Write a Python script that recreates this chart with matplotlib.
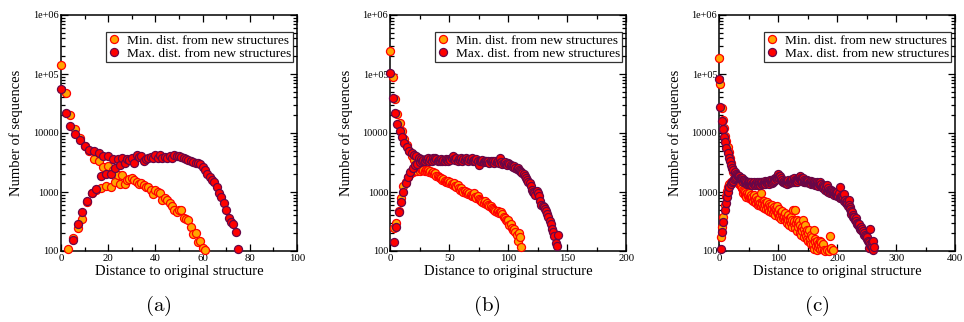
import numpy as np
import matplotlib
matplotlib.use('Agg')
import matplotlib.pyplot as plt
from matplotlib.ticker import FixedLocator, FixedFormatter, MultipleLocator, LogLocator, NullFormatter

nan = np.nan

# ---------------- data ----------------
# index = distance to original structure (0,1,2,...); nan = below the visible range
min_a = [144000, nan, 48300, 110, 20500, 168, 11800, 245, 8200, 354,
         6000, 690, 4900, 950, 3630, 1070, 3350, 1170, 2690, 1260,
         2760, 1220, 2400, 1450, 1920, 1380, 1920, 1380, 1590, 1640,
         1730, 1590, 1480, 1380, 1420, 1290, 1220, 1220, 1090, 935,
         1070, 1010, 950, 730, 780, 730, 645, 580, 495, 463,
         495, 495, 358, 344, 331, 252, 192, 200, 142, 146,
         112, 104]
max_a = [56000, nan, 21500, nan, 13200, 156, 9800, 283, 7500, 452,
         6000, 703, 5100, 960, 4950, 1140, 4600, 1890, 4030, 2020,
         4050, 2040, 3670, 2580, 3580, 2820, 3800, 3090, 3600, 3540,
         3800, 3140, 4200, 3900, 4150, 3300, 3600, 3720, 3900, 3800,
         4200, 3700, 4200, 3800, 3900, 3700, 4000, 3800, 4300, 4000,
         4000, 3900, 3800, 3600, 3440, 3300, 3270, 3150, 3140, 3000,
         2690, 2360, 2050, 1790, 1600, 1500, 1200, 980, 815, 660,
         495, 367, 314, 290, 210, 108]

min_b = [248000, nan, 90000, 250, 37500, 300, 21000, 480, 14500, 800,
         11000, 1260, 8000, 1500, 6300, 1800, 5000, 2000, 4100, 2150,
         3500, 2250, 3000, 2300, 2700, 2300, 2500, 2400, 2400, 2300,
         2350, 2300, 2400, 2200, 2300, 2100, 2200, 2000, 2100, 1900,
         1850, 1800, 1700, 1750, 1600, 1650, 1550, 1500, 1450, 1550,
         1400, 1450, 1350, 1300, 1400, 1250, 1200, 1300, 1150, 1100,
         1150, 1050, 1000, 1050, 950, 1000, 920, 980, 900, 870,
         850, 950, 820, 800, 850, 760, 730, 700, 680, 650,
         700, 620, 640, 600, 570, 580, 540, 520, 500, 480,
         460, 470, 440, 450, 460, 420, 380, 360, 340, 320,
         330, 280, 290, 250, 230, 240, 210, 190, 150, 200,
         175, 118]
max_b = [105000, nan, 39000, 143, 21800, 252, 14400, 465, 11000, 690,
         8500, 1000, 6800, 1400, 5800, 1800, 5000, 2200, 4500, 2600,
         4200, 2850, 4000, 3000, 3800, 3200, 3600, 3300, 3500, 3400,
         3600, 3500, 3700, 3300, 3600, 3400, 3700, 3500, 3800, 3600,
         3300, 3500, 3400, 3600, 3300, 3500, 3400, 3600, 3500, 3300,
         3600, 3500, 3700, 4000, 3600, 3500, 3700, 3400, 3600, 3500,
         3700, 3400, 3600, 3500, 3800, 3500, 3400, 3600, 3500, 3700,
         3400, 3500, 3300, 3600, 3400, 2900, 3400, 3300, 3500, 3200,
         3300, 3400, 3200, 3300, 3100, 3300, 3200, 3400, 3100, 3300,
         3200, 3300, 3100, 3800, 3200, 3000, 3100, 3200, 3000, 2900,
         3100, 3000, 2900, 2800, 2700, 2800, 2600, 2500, 2600, 2400,
         2300, 2200, 2100, 2000, 1900, 1750, 1600, 1500, 1400, 1250,
         1100, 1000, 950, 900, 1050, 950, 850, 700, 600, 580,
         550, 520, 480, 430, 380, 320, 290, 240, 210, 180,
         135, 120, 190]

min_c = [190000, nan, 69000, 175, 27000, 260, 16600, 380, 12000, 600,
         9000, 850, 7200, 1050, 5800, 1230, 4700, 1350, 3800, 1450,
         3100, 1500, 2600, 1550, 2200, 1600, 1900, 1600, 1700, 1550,
         1550, 1500, 1450, 1450, 1350, 1350, 1250, 1250, 1150, 1150,
         1100, 950, 1050, 880, 1000, 920, 820, 980, 860, 900,
         800, 950, 830, 760, 880, 720, 820, 700, 780, 900,
         680, 750, 820, 640, 720, 600, 700, 760, 620, 645,
         950, 580, 680, 620, 560, 700, 540, 640, 600, 520,
         600, 680, 500, 560, 620, 480, 580, 530, 460, 600,
         525, 440, 560, 480, 520, 400, 500, 450, 580, 420,
         450, 380, 520, 400, 460, 350, 420, 480, 360, 400,
         380, 330, 440, 360, 355, 300, 400, 340, 280, 360,
         330, 300, 380, 260, 340, 500, 290, 320, 495, 250,
         295, 340, 220, 300, 260, 320, 200, 280, 240, 190,
         260, 220, 335, 175, 240, 200, 280, 180, 224, 160,
         200, 150, 230, 140, 163, 190, 130, 170, 120, 132,
         227, 110, 160, 140, 120, 150, 105, 130, 115, 125,
         150, 108, 120, 141, 110, 130, 95, 105, 90, 100,
         85, 92, 105, 80, 95, 88, 100, 180, 90, 110,
         111, 95, 105]
max_c = [81000, nan, 28000, 107, 16000, 210, 11500, 310, 8700, 495,
         7000, 650, 5600, 830, 4600, 1000, 3800, 1230, 3300, 1350,
         2900, 1490, 2600, 1550, 2400, 1650, 2200, 1700, 2050, 1800,
         1950, 1900, 1900, 1800, 1850, 1700, 1750, 1650, 1700, 1600,
         1550, 1480, 1600, 1450, 1520, 1400, 1500, 1380, 1450, 1420,
         1350, 1480, 1400, 1300, 1450, 1380, 1320, 1420, 1350, 1500,
         1380, 1300, 1420, 1350, 1480, 1400, 1330, 1450, 1380, 1300,
         1420, 1500, 1380, 1450, 1350, 1480, 1400, 1520, 1380, 1450,
         1500, 1420, 1550, 1450, 1380, 1500, 1600, 1480, 1550, 1420,
         1600, 1500, 1650, 1550, 1700, 1600, 1750, 1650, 1800, 1900,
         2000, 1850, 1750, 1900, 1650, 1700, 1550, 1600, 1500, 1450,
         1550, 1400, 1500, 1450, 1380, 1550, 1480, 1600, 1420, 1500,
         1550, 1450, 1600, 1500, 1650, 1480, 1550, 1700, 1500, 1600,
         1550, 1650, 1500, 1700, 1600, 1750, 1650, 1900, 1700, 1600,
         1650, 1550, 1700, 1500, 1600, 1450, 1550, 1500, 1600, 1450,
         1500, 1550, 1400, 1500, 1450, 1550, 1380, 1500, 1420, 1350,
         1450, 1380, 1300, 1420, 1350, 1500, 1300, 1400, 1250, 1350,
         1470, 1300, 1250, 1350, 1200, 1300, 1150, 1250, 1200, 1100,
         1200, 1150, 1300, 1050, 1150, 1000, 1100, 1050, 950, 1100,
         1000, 1050, 950, 1000, 900, 1000, 950, 880, 950, 850,
         1000, 900, 850, 950, 800, 1200, 850, 780, 820, 750,
         800, 940, 700, 730, 680, 650, 700, 620, 580, 740,
         600, 560, 520, 480, 420, 450, 400, 380, 360, 370,
         340, 360, 320, 300, 290, 280, 270, 290, 250, 240,
         260, 230, 240, 210, 220, 190, 200, 186, 170, 180,
         160, 172, 150, 140, 111, 233, 130, 120, 143, 117,
         150, 105, 117]

panel_min = [min_a, min_b, min_c]
panel_max = [max_a, max_b, max_c]
x_max = [100, 200, 400]
x_major = [20, 50, 100]
panel_tags = ['a', 'b', 'c']
ytick_values = [100, 1000, 10000, 100000, 1000000]
ytick_labels = ['100', '1000', '10000', '1e+05', '1e+06']
legend_labels = ['Min. dist. from new structures', 'Max. dist. from new structures']
x_label = 'Distance to original structure'
y_label = 'Number of sequences'

# ---------------- style ----------------
plt.rcParams['font.family'] = ['Liberation Serif', 'DejaVu Serif']
plt.rcParams['mathtext.fontset'] = 'cm'

W, H = 964, 322
fig = plt.figure(figsize=(W / 100, H / 100), dpi=100)

lefts_px = [61, 390.3, 719.3]
ax_w_px, top_px, bot_px = 236, 15, 251

ORANGE = '#FFA500'
RED = '#FF0000'
MAROON = '#670748'

for i in range(3):
    l = lefts_px[i]
    ax = fig.add_axes([l / W, 1 - bot_px / H, ax_w_px / W, (bot_px - top_px) / H])
    ymin = np.array(panel_min[i], dtype=float)
    ymax = np.array(panel_max[i], dtype=float)
    xmn = np.arange(len(ymin))
    xmx = np.arange(len(ymax))
    ymin = np.where(ymin >= 100, ymin, np.nan)
    ymax = np.where(ymax >= 100, ymax, np.nan)
    ax.plot(xmn, ymin, 'o', ls='none', ms=5.8, mfc=ORANGE, mec=RED, mew=0.9,
            clip_on=False, zorder=3, label=legend_labels[0])
    ax.plot(xmx, ymax, 'o', ls='none', ms=5.8, mfc=RED, mec=MAROON, mew=0.9,
            clip_on=False, zorder=4, label=legend_labels[1])
    ax.set_yscale('log')
    ax.set_ylim(100, 1e6)
    ax.set_xlim(0, x_max[i])
    ax.yaxis.set_major_locator(FixedLocator(ytick_values))
    ax.yaxis.set_major_formatter(FixedFormatter(ytick_labels))
    ax.yaxis.set_minor_locator(LogLocator(base=10, subs=np.arange(2, 10)))
    ax.yaxis.set_minor_formatter(NullFormatter())
    ax.xaxis.set_major_locator(MultipleLocator(x_major[i]))
    ax.xaxis.set_minor_locator(MultipleLocator(x_major[i] / 2))
    ax.tick_params(which='both', direction='in', top=True, right=True, width=0.9)
    ax.tick_params(which='major', length=5)
    ax.tick_params(which='minor', length=2.8)
    ax.tick_params(axis='y', labelsize=7.4, pad=1.5)
    ax.tick_params(axis='x', labelsize=7.8, pad=2.5)
    for s in ax.spines.values():
        s.set_linewidth(1.1)
    ax.set_xlabel(x_label, fontsize=10.5)
    ax.set_ylabel(y_label, fontsize=10.5)
    ax.xaxis.set_label_coords(0.5, -0.058)
    ax.yaxis.set_label_coords(-0.16, 0.5)
    leg = ax.legend(loc='upper right', bbox_to_anchor=(0.983, 0.927), borderaxespad=0,
                    fontsize=9.6, frameon=True, fancybox=False, edgecolor='black',
                    handlelength=0.9, handletextpad=0.5, borderpad=0.15,
                    labelspacing=0.05, markerscale=1.0)
    leg.get_frame().set_linewidth(0.9)
    cx = (l + ax_w_px / 2 - 21) / W
    fig.text(cx, 1 - 306 / H, r'$(\mathrm{%s})$' % panel_tags[i], fontsize=15,
             ha='center', va='center')

fig.savefig('out.png', dpi=100)
